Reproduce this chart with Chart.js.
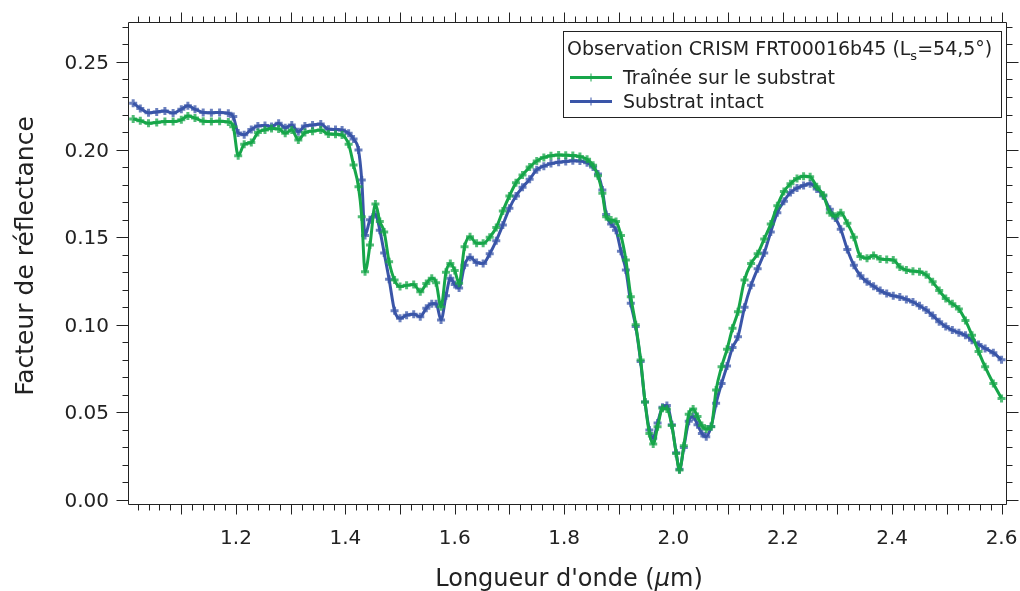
<!DOCTYPE html>
<html>
<head>
<meta charset="utf-8">
<script src="https://cdn.jsdelivr.net/npm/chart.js@4.4.1/dist/chart.umd.min.js"></script>
<style>
  html, body { margin: 0; padding: 0; background: #fff; }
  #wrap { width: 1020px; height: 591px; }
</style>
</head>
<body>
<div id="wrap"><canvas id="chart" width="1020" height="591"></canvas></div>
<script>
// wavelengths (µm)
const wavelengths = [
  1.012, 1.025, 1.040, 1.055, 1.070, 1.085, 1.100, 1.112, 1.125, 1.140,
  1.155, 1.170, 1.186, 1.195, 1.204, 1.215, 1.228, 1.240, 1.253, 1.265,
  1.278, 1.290, 1.302, 1.314, 1.326, 1.340, 1.355, 1.369, 1.382, 1.394,
  1.406, 1.415, 1.424, 1.430, 1.436, 1.445, 1.455, 1.463, 1.471, 1.480,
  1.490, 1.500, 1.512, 1.525, 1.537, 1.548, 1.558, 1.566, 1.575, 1.584,
  1.592, 1.600, 1.608, 1.618, 1.628, 1.640, 1.652, 1.664, 1.676, 1.688,
  1.700, 1.712, 1.724, 1.737, 1.750, 1.763, 1.776, 1.790, 1.803, 1.816,
  1.829, 1.842, 1.853, 1.862, 1.870, 1.877, 1.886, 1.895, 1.904, 1.913,
  1.922, 1.931, 1.940, 1.948, 1.956, 1.963, 1.971, 1.980, 1.988, 1.997,
  2.005, 2.011, 2.019, 2.028, 2.036, 2.044, 2.052, 2.060, 2.069, 2.078,
  2.088, 2.098, 2.108, 2.118, 2.130, 2.142, 2.154, 2.166, 2.178, 2.190,
  2.202, 2.214, 2.226, 2.238, 2.250, 2.262, 2.274, 2.286, 2.296, 2.306,
  2.318, 2.330, 2.342, 2.354, 2.366, 2.378, 2.390, 2.402, 2.414, 2.426,
  2.438, 2.450, 2.462, 2.474, 2.486, 2.498, 2.510, 2.522, 2.534, 2.546,
  2.558, 2.570, 2.585, 2.600
];

// Traînée sur le substrat (green)
const trainee = [
  0.2175, 0.2165, 0.2150, 0.2155, 0.2160, 0.2160, 0.2170, 0.2192, 0.2180, 0.2162,
  0.2160, 0.2162, 0.2158, 0.2130, 0.1965, 0.2030, 0.2040, 0.2098, 0.2112, 0.2120,
  0.2118, 0.2093, 0.2112, 0.2055, 0.2097, 0.2105, 0.2112, 0.2089, 0.2088, 0.2083,
  0.2030, 0.1912, 0.1788, 0.1617, 0.1303, 0.1455, 0.1690, 0.1590, 0.1530, 0.1360,
  0.1255, 0.1218, 0.1225, 0.1230, 0.1189, 0.1235, 0.1265, 0.1240, 0.1103, 0.1300,
  0.1350, 0.1310, 0.1237, 0.1446, 0.1503, 0.1465, 0.1465, 0.1500, 0.1555, 0.1650,
  0.1735, 0.1810, 0.1855, 0.1900, 0.1935, 0.1955, 0.1965, 0.1969, 0.1968, 0.1966,
  0.1960, 0.1945, 0.1910, 0.1850, 0.1750, 0.1617, 0.1598, 0.1590, 0.1510, 0.1370,
  0.1160, 0.1000, 0.0799, 0.0560, 0.0380, 0.0320, 0.0418, 0.0523, 0.0520, 0.0425,
  0.0266, 0.0171, 0.0310, 0.0490, 0.0520, 0.0476, 0.0425, 0.0405, 0.0418, 0.0628,
  0.0760, 0.0860, 0.0980, 0.1075, 0.1256, 0.1350, 0.1405, 0.1490, 0.1575, 0.1680,
  0.1760, 0.1805, 0.1835, 0.1848, 0.1845, 0.1788, 0.1740, 0.1640, 0.1620, 0.1640,
  0.1580, 0.1500, 0.1390, 0.1380, 0.1395, 0.1376, 0.1372, 0.1370, 0.1330, 0.1312,
  0.1306, 0.1303, 0.1285, 0.1245, 0.1195, 0.1150, 0.1120, 0.1090, 0.1025, 0.0940,
  0.0847, 0.0760, 0.0665, 0.0580
];

// Substrat intact (blue)
const intact = [
  0.2265, 0.2235, 0.2210, 0.2215, 0.2220, 0.2208, 0.2230, 0.2250, 0.2230, 0.2212,
  0.2210, 0.2212, 0.2207, 0.2188, 0.2095, 0.2085, 0.2115, 0.2135, 0.2138, 0.2132,
  0.2150, 0.2125, 0.2140, 0.2102, 0.2135, 0.2140, 0.2146, 0.2116, 0.2115, 0.2112,
  0.2093, 0.2060, 0.1998, 0.1826, 0.1510, 0.1600, 0.1630, 0.1540, 0.1410, 0.1260,
  0.1080, 0.1037, 0.1055, 0.1060, 0.1046, 0.1095, 0.1120, 0.1120, 0.1027, 0.1165,
  0.1265, 0.1230, 0.1210, 0.1340, 0.1385, 0.1355, 0.1350, 0.1405, 0.1480, 0.1570,
  0.1665, 0.1735, 0.1785, 0.1830, 0.1885, 0.1905, 0.1920, 0.1928, 0.1932, 0.1936,
  0.1935, 0.1925, 0.1900, 0.1860, 0.1769, 0.1630, 0.1575, 0.1540, 0.1420, 0.1313,
  0.1123, 0.0990, 0.0790, 0.0560, 0.0400, 0.0352, 0.0440, 0.0530, 0.0540, 0.0430,
  0.0270, 0.0175, 0.0300, 0.0450, 0.0475, 0.0430, 0.0380, 0.0361, 0.0420, 0.0552,
  0.0665, 0.0765, 0.0870, 0.0932, 0.1100, 0.1225, 0.1320, 0.1410, 0.1530, 0.1640,
  0.1705, 0.1755, 0.1780, 0.1795, 0.1805, 0.1775, 0.1735, 0.1660, 0.1610, 0.1545,
  0.1430, 0.1340, 0.1280, 0.1245, 0.1220, 0.1195, 0.1178, 0.1165, 0.1158, 0.1145,
  0.1130, 0.1108, 0.1085, 0.1053, 0.1018, 0.0990, 0.0970, 0.0955, 0.0940, 0.0912,
  0.0888, 0.0865, 0.0840, 0.0800
];

const xTicks = [1.2, 1.4, 1.6, 1.8, 2.0, 2.2, 2.4, 2.6];
const yTicks = [0.00, 0.05, 0.10, 0.15, 0.20, 0.25];
const seriesNames = ['Traînée sur le substrat', 'Substrat intact'];

const FONT = '"DejaVu Sans", "Noto Sans", sans-serif';
const INK = '#222';
const GREEN = '#17a64a';
const BLUE = '#3a55a8';

const pts = arr => wavelengths.map((w, i) => ({ x: w, y: arr[i] }));

// frame, mirrored ticks, tick labels, axis titles and legend box
const decor = {
  id: 'decor',
  afterDatasetsDraw(chart) {
    const { ctx, chartArea: a, scales: { x, y } } = chart;
    const L = Math.round(a.left) + 0.5, R = Math.round(a.right) - 0.5;
    const T = Math.round(a.top) + 0.5, B = Math.round(a.bottom) - 0.5;
    const f = size => size + 'px ' + FONT;
    const fi = size => 'italic ' + size + 'px ' + FONT;
    ctx.save();
    ctx.strokeStyle = INK;
    ctx.lineWidth = 1;
    ctx.beginPath();
    ctx.rect(L, T, R - L, B - T);
    // x ticks every 0.02, longer every 0.1
    for (let k = 50; k <= 131; k++) {
      const px = Math.round(x.getPixelForValue(k / 50)) + 0.5;
      if (px < L + 1 || px > R) continue;
      const len = k % 5 === 0 ? 10 : 6;
      ctx.moveTo(px, B); ctx.lineTo(px, B + len);
      ctx.moveTo(px, T); ctx.lineTo(px, T - len);
    }
    // y ticks every 0.01, longer every 0.05
    for (let k = 0; k <= 27; k++) {
      const py = Math.round(y.getPixelForValue(k / 100)) + 0.5;
      const len = k % 5 === 0 ? 12 : 6;
      ctx.moveTo(L, py); ctx.lineTo(L - len, py);
      ctx.moveTo(R, py); ctx.lineTo(R + len, py);
    }
    ctx.stroke();

    // tick labels
    ctx.fillStyle = INK;
    ctx.font = f(20);
    ctx.textBaseline = 'alphabetic';
    ctx.textAlign = 'center';
    xTicks.forEach(v => ctx.fillText(v.toFixed(1), x.getPixelForValue(v), 543.5));
    ctx.textAlign = 'right';
    yTicks.forEach(v => ctx.fillText(v.toFixed(2), 109, y.getPixelForValue(v) + 7));

    // axis titles
    const parts = [['Longueur d\'onde (', f(24)], ['\u03bc', fi(24)], ['m)', f(24)]];
    let total = 0;
    parts.forEach(p => { ctx.font = p[1]; total += ctx.measureText(p[0]).width; });
    let cx = 569 - total / 2;
    ctx.textAlign = 'left';
    parts.forEach(p => { ctx.font = p[1]; ctx.fillText(p[0], cx, 586); cx += ctx.measureText(p[0]).width; });

    ctx.save();
    ctx.translate(33, 256);
    ctx.rotate(-Math.PI / 2);
    ctx.font = f(25);
    ctx.textAlign = 'center';
    ctx.fillText('Facteur de r\u00e9flectance', 0, 0);
    ctx.restore();

    // legend
    const bx = 563.5, by = 31.5, bw = 438, bh = 86;
    ctx.fillStyle = '#fff';
    ctx.fillRect(bx, by, bw, bh);
    ctx.strokeStyle = INK;
    ctx.strokeRect(bx, by, bw, bh);
    ctx.fillStyle = INK;
    ctx.textAlign = 'left';
    let tx = 567;
    const title = [['Observation CRISM FRT00016b45 (L', f(19), 0], ['s', f(13), 5], ['=54,5\u00b0)', f(19), 0]];
    title.forEach(p => { ctx.font = p[1]; ctx.fillText(p[0], tx, 55 + p[2]); tx += ctx.measureText(p[0]).width; });

    chart.data.datasets.forEach((ds, i) => {
      const ly = i === 0 ? 77.5 : 101.5;
      ctx.strokeStyle = ds.borderColor;
      ctx.lineWidth = 3;
      ctx.beginPath(); ctx.moveTo(570, ly); ctx.lineTo(612, ly); ctx.stroke();
      ctx.lineWidth = 1;
      ctx.beginPath(); ctx.moveTo(591, ly - 4); ctx.lineTo(591, ly + 4); ctx.stroke();
      ctx.fillStyle = INK;
      ctx.font = f(19);
      ctx.fillText(ds.label, 623, ly + 6);
    });
    ctx.restore();
  }
};

new Chart(document.getElementById('chart'), {
  type: 'line',
  data: {
    datasets: [
      {
        label: seriesNames[0],
        data: pts(trainee),
        borderColor: GREEN,
        pointBorderColor: 'rgba(23,166,74,0.75)',
        borderWidth: 3
      },
      {
        label: seriesNames[1],
        data: pts(intact),
        borderColor: BLUE,
        pointBorderColor: 'rgba(58,85,168,0.75)',
        borderWidth: 3
      }
    ]
  },
  options: {
    responsive: false,
    animation: false,
    devicePixelRatio: 1,
    layout: { padding: { left: 0, right: 13, top: 22, bottom: 0 } },
    elements: {
      line: { cubicInterpolationMode: 'monotone' },
      point: { pointStyle: 'cross', radius: 4, borderWidth: 1.2 }
    },
    plugins: { legend: { display: false }, tooltip: { enabled: false } },
    scales: {
      x: {
        type: 'linear',
        min: 1.0025,
        max: 2.61,
        grid: { display: false, drawTicks: false },
        border: { display: false },
        ticks: { display: false },
        afterFit: s => { s.height = 86; }
      },
      y: {
        type: 'linear',
        min: -0.00285,
        max: 0.2728,
        grid: { display: false, drawTicks: false },
        border: { display: false },
        ticks: { display: false },
        afterFit: s => { s.width = 128; }
      }
    }
  },
  plugins: [decor]
});
</script>
</body>
</html>
